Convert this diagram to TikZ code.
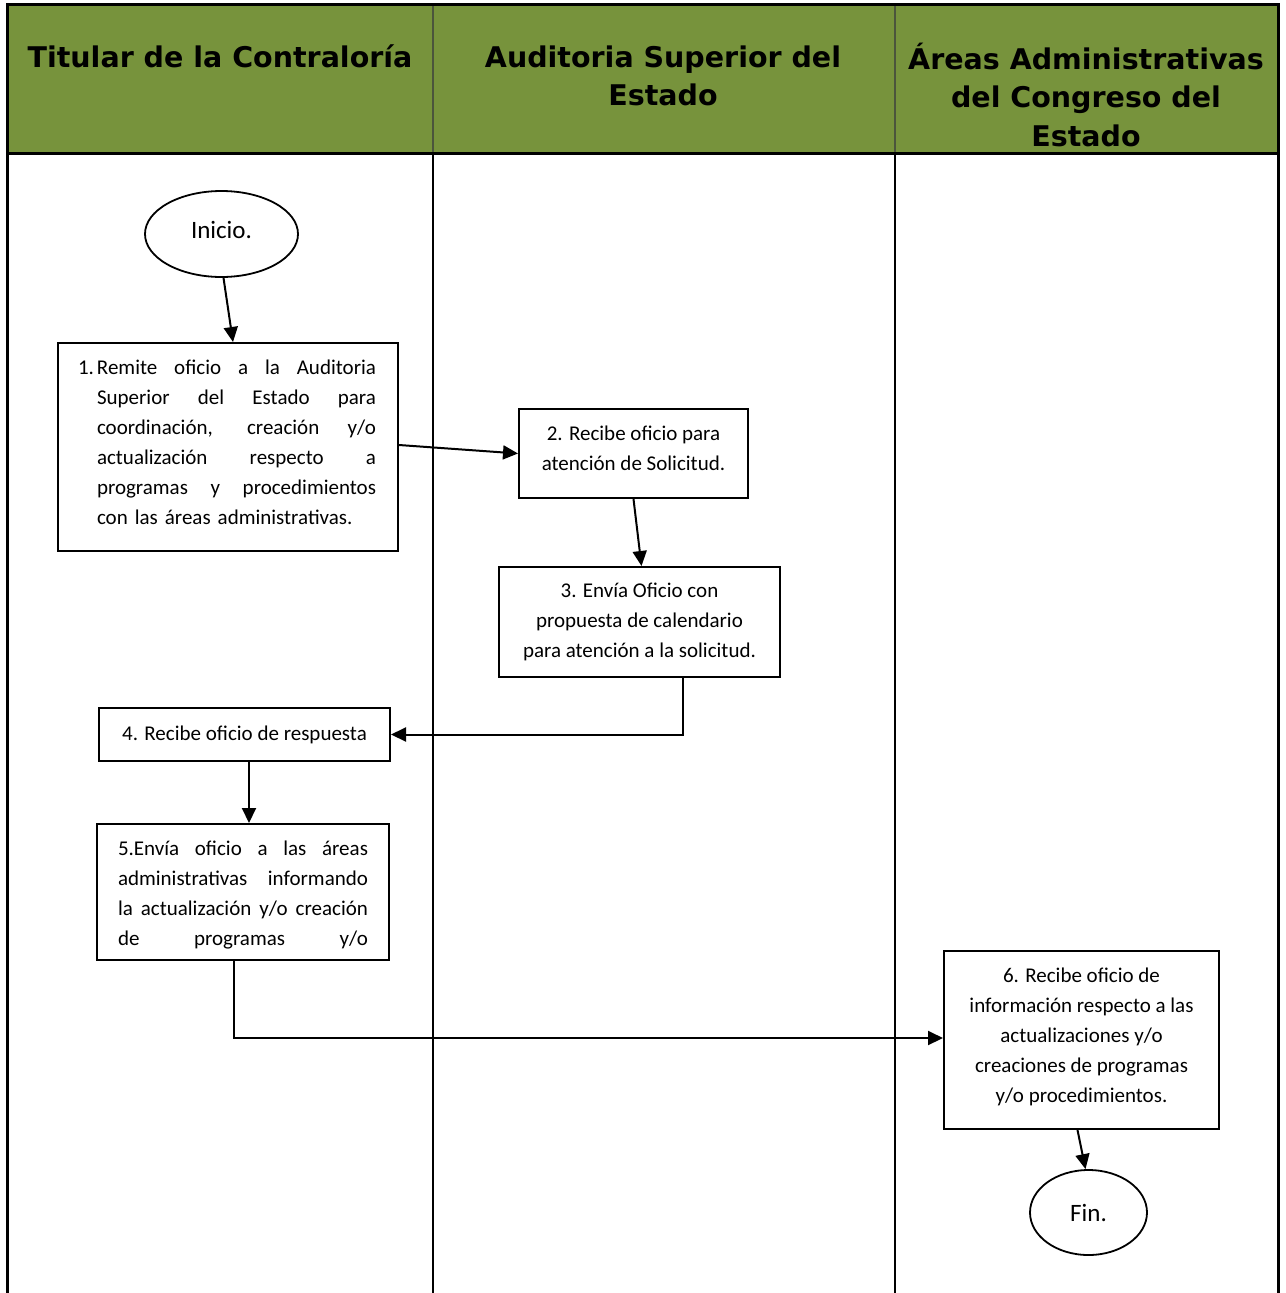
\documentclass[tikz,border=0pt]{standalone}
\usepackage{fontspec}
\setmainfont{Carlito}
\newfontfamily\headfont{DejaVu Sans}
\usetikzlibrary{arrows.meta,shapes.geometric,calc}

\definecolor{headgreen}{RGB}{119,147,60}
\definecolor{headrule}{RGB}{75,85,60}

% one fully justified line of a given width: spaces share the spare room
\newcommand{\jline}[2]{\leavevmode\hbox to #1{\spaceskip=0.226em plus 1fil\relax #2}}
% invisible struts that push a text block up or down inside its box
\newcommand{\downstrut}[1]{\rule[-#1]{0pt}{0pt}}
\newcommand{\upstrut}[1]{\rule{0pt}{#1}}

\tikzset{
  box/.style={draw=black, line width=2pt, inner sep=0pt, font=\fontsize{21}{30}\selectfont},
  cbox/.style={box, align=center},
  term/.style={draw=black, line width=1.8pt, ellipse, inner sep=0pt, font=\fontsize{25}{30}\selectfont},
  arr/.style={line width=2pt, -{Triangle[length=15pt,width=14pt]}},
  head/.style={font=\headfont\bfseries\fontsize{28.5}{38.5}\selectfont, align=center, inner sep=0pt},
  frame/.style={line width=2.5pt, black}
}

\begin{document}
\begin{tikzpicture}[x=1pt, y=-1pt]
\useasboundingbox (0,0) rectangle (1285,1293);

% header band
\fill[headgreen] (8,5) rectangle (1278,153);
\draw[headrule, line width=2pt] (433,5) -- (433,153);
\draw[headrule, line width=2pt] (895,5) -- (895,153);

% table frame and lane separators
\draw[line width=3pt] (6,4) -- (1280,4);
\draw[line width=3pt] (6,153) -- (1280,153);
\draw[frame] (7.5,3) -- (7.5,1293);
\draw[frame] (1278.5,3) -- (1278.5,1293);
\draw[frame] (433,153) -- (433,1293);
\draw[frame] (895,153) -- (895,1293);

% lane titles
\node[head] (h1) at (220,56.5) {Titular de la Contraloría};
\node[head] (h2) at (663,76) {Auditoria Superior del\\Estado};
\node[head] (h3) at (1086,94.5) {Áreas Administrativas\\del Congreso del\\Estado};

% process steps
\node[term, minimum width=153pt, minimum height=86pt] (ini) at (221.5,234) {Inicio.\downstrut{8pt}};

\node[box, minimum width=340pt, minimum height=208pt, text width=318pt, inner xsep=11pt,
      align=left] (b1) at (228,447)
  {\hspace*{9pt}\makebox[19pt][l]{1.}\jline{279pt}{Remite oficio a la Auditoria}\\
   \hspace*{28pt}\jline{279pt}{Superior del Estado para}\\
   \hspace*{28pt}\jline{279pt}{coordinación, creación y/o}\\
   \hspace*{28pt}\jline{279pt}{actualización respecto a}\\
   \hspace*{28pt}\jline{279pt}{programas y procedimientos}\\
   \hspace*{28pt}con las áreas administrativas.\downstrut{10pt}};

\node[cbox, minimum width=229pt, minimum height=89pt] (b2) at (633.5,453.5)
  {2. Recibe oficio para\\atención de Solicitud.\downstrut{10pt}};

\node[cbox, minimum width=281pt, minimum height=110pt] (b3) at (639.5,622)
  {3. Envía Oficio con\\propuesta de calendario\\para atención a la solicitud.};

\node[cbox, minimum width=291pt, minimum height=53pt] (b4) at (244.5,734.5)
  {4. Recibe oficio de respuesta};

\node[box, minimum width=292pt, minimum height=136pt, text width=250pt, inner xsep=21pt,
      align=left] (b5) at (243,892)
  {\jline{250pt}{\upstrut{21pt}5.Envía oficio a las áreas}\\
   \jline{250pt}{administrativas informando}\\
   \jline{250pt}{la actualización y/o creación}\\
   \jline{250pt}{de programas y/o}};

\node[cbox, minimum width=275pt, minimum height=178pt] (b6) at (1081.5,1040)
  {6. Recibe oficio de\\información respecto a las\\actualizaciones y/o\\creaciones de programas\\y/o procedimientos.\downstrut{10pt}};

\node[term, minimum width=117pt, minimum height=85pt] (fin) at (1088.5,1212.5) {Fin.};

% connectors
\draw[arr] ($(ini.south)+(2,0)$) -- ($(b1.north)+(5,0)$);
\draw[arr] ($(b1.east)+(0,-2)$) -- (b2.west);
\draw[arr] (b2.south) -- ($(b3.north)+(2,0)$);
\coordinate (c34) at ($(b3.south)+(43.5,0)$);
\draw[arr] (c34) |- (b4.east);
\coordinate (c45) at ($(b4.south)+(4.5,0)$);
\draw[arr] (c45) -- (c45 |- b5.north);
\coordinate (c56) at ($(b5.south)+(-9,0)$);
\draw[arr] (c56) |- ($(b6.west)+(0,-2)$);
\draw[arr] ($(b6.south)+(-4,0)$) -- ($(fin.north)+(-3,0)$);
\end{tikzpicture}
\end{document}
